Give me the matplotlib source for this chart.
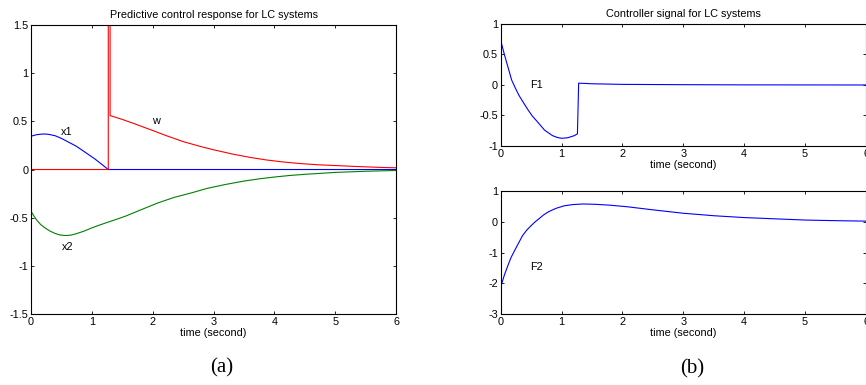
import matplotlib
matplotlib.use('Agg')
import matplotlib.pyplot as plt

# ---- data ----
x1_t = [0, 0.05, 0.1, 0.17, 0.23, 0.3, 0.4, 0.5, 0.6, 0.75, 0.9, 1.05, 1.15, 1.27, 6.0]
x1_v = [0.345, 0.355, 0.362, 0.367, 0.369, 0.364, 0.35, 0.323, 0.29, 0.24, 0.175, 0.11, 0.06,
        0.0, 0.0]

x2_t = [0, 0.05, 0.1, 0.16, 0.23, 0.3, 0.4, 0.48, 0.56, 0.65, 0.75, 0.87, 1.0, 1.12, 1.25,
        1.4, 1.55, 1.8, 2.09, 2.35, 2.64, 2.9, 3.19, 3.5, 3.75, 4.0, 4.25, 4.5, 5.0, 5.5, 6.0]
x2_v = [-0.433, -0.485, -0.53, -0.572, -0.606, -0.635, -0.665, -0.68, -0.685, -0.682, -0.665,
        -0.64, -0.606, -0.578, -0.55, -0.518, -0.485, -0.42, -0.346, -0.29, -0.242, -0.195,
        -0.156, -0.12, -0.097, -0.078, -0.062, -0.05, -0.03, -0.018, -0.01]

w_t = [0, 1.27, 1.27, 1.30, 1.30, 1.5, 1.68, 1.85, 2.0, 2.23, 2.5, 2.78, 3.0, 3.33, 3.6, 3.87,
       4.15, 4.42, 4.7, 4.97, 5.4, 5.79, 6.0]
w_v = [0, 0, 3.0, 3.0, 0.56, 0.52, 0.48, 0.44, 0.405, 0.35, 0.29, 0.24, 0.205, 0.158, 0.126,
       0.099, 0.078, 0.062, 0.05, 0.042, 0.03, 0.021, 0.018]

F1_t = [0, 0.005, 0.06, 0.12, 0.18, 0.24, 0.3, 0.38, 0.45, 0.52, 0.6, 0.72, 0.85, 0.93, 1.0,
        1.1, 1.21, 1.26, 1.28, 1.5, 2.0, 3.0, 4.0, 6.0]
F1_v = [0, 0.71, 0.50, 0.29, 0.08, -0.05, -0.17, -0.30, -0.41, -0.51, -0.60, -0.74, -0.83,
        -0.86, -0.874, -0.865, -0.83, -0.80, 0.03, 0.02, 0.01, 0.005, 0.002, 0.0]

F2_t = [0, 0.005, 0.06, 0.12, 0.17, 0.23, 0.3, 0.36, 0.43, 0.5, 0.57, 0.64, 0.7, 0.77, 0.84,
        0.91, 1.04, 1.18, 1.35, 1.55, 1.8, 2.08, 2.5, 3.0, 3.5, 4.0, 4.5, 5.0, 5.5, 6.0]
F2_v = [0, -2.08, -1.73, -1.41, -1.16, -0.93, -0.67, -0.45, -0.27, -0.13, 0.0, 0.11, 0.21, 0.30,
        0.37, 0.43, 0.51, 0.55, 0.57, 0.56, 0.53, 0.48, 0.38, 0.27, 0.19, 0.13, 0.09, 0.05, 0.03,
        0.015]

plt.rcParams['font.family'] = ['Liberation Sans', 'DejaVu Sans']
plt.rcParams['font.size'] = 7.8
plt.rcParams['axes.unicode_minus'] = False

fig = plt.figure(figsize=(8.66, 3.85), dpi=100)

def style(ax):
    ax.tick_params(direction='in', length=2.5, width=0.6, top=True, right=True,
                   labelsize=7.8, pad=2)
    for s in ax.spines.values():
        s.set_linewidth(0.8)

# (a)
ax = fig.add_axes([0.0358, 0.1844, 0.4215, 0.7506])
ax.plot(x1_t, x1_v, color='b', lw=0.8)
ax.plot(x2_t, x2_v, color='g', lw=0.8)
ax.plot(w_t, w_v, color='r', lw=0.8)
ax.set_xlim(0, 6)
ax.set_ylim(-1.5, 1.5)
ax.set_xticks([0, 1, 2, 3, 4, 5, 6])
ax.set_yticks([-1.5, -1, -0.5, 0, 0.5, 1, 1.5])
ax.set_yticklabels(['-1.5', '-1', '-0.5', '0', '0.5', '1', '1.5'])
ax.text(0.59, 0.39, 'x1', ha='center', va='center')
ax.text(2.05, 0.5, 'w', ha='center', va='center')
ax.text(0.61, -0.80, 'x2', ha='center', va='center')
ax.set_title('Predictive control response for LC systems', fontsize=7.8, pad=5)
ax.set_xlabel('time (second)', fontsize=7.8, labelpad=1)
style(ax)

# (b) top
ax1 = fig.add_axes([0.5782, 0.6208, 0.4218, 0.3169])
ax1.plot(F1_t, F1_v, color='b', lw=0.8)
ax1.set_xlim(0, 6)
ax1.set_ylim(-1, 1)
ax1.set_xticks([0, 1, 2, 3, 4, 5, 6])
ax1.set_yticks([-1, -0.5, 0, 0.5, 1])
ax1.set_yticklabels(['-1', '-0.5', '0', '0.5', '1'])
ax1.text(0.59, 0.0, 'F1', ha='center', va='center')
ax1.set_title('Controller signal for LC systems', fontsize=7.8, pad=5)
ax1.set_xlabel('time (second)', fontsize=7.8, labelpad=1)
style(ax1)

# (b) bottom
ax2 = fig.add_axes([0.5782, 0.1836, 0.4218, 0.3211])
ax2.plot(F2_t, F2_v, color='b', lw=0.8)
ax2.set_xlim(0, 6)
ax2.set_ylim(-3, 1)
ax2.set_xticks([0, 1, 2, 3, 4, 5, 6])
ax2.set_yticks([-3, -2, -1, 0, 1])
ax2.text(0.59, -1.48, 'F2', ha='center', va='center')
ax2.set_xlabel('time (second)', fontsize=7.8, labelpad=1)
style(ax2)

fig.text(222 / 866, 1 - 368 / 385, '(a)', fontsize=15, family='Liberation Serif',
         ha='center', va='center')
fig.text(692 / 866, 1 - 369 / 385, '(b)', fontsize=15, family='Liberation Serif',
         ha='center', va='center')

fig.savefig('out.png', dpi=100)
